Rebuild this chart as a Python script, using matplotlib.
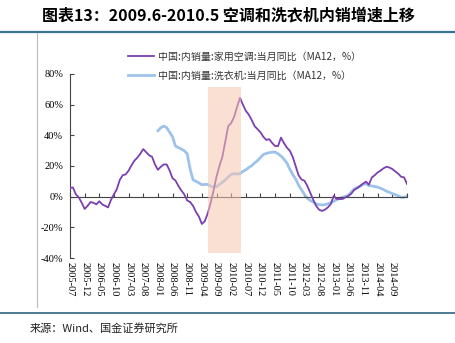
import pandas as pd
import matplotlib
matplotlib.use("Agg")
import matplotlib.pyplot as plt
from matplotlib.lines import Line2D

plt.rcParams['font.family'] = ['Noto Sans CJK SC', 'DejaVu Sans']

# monthly, 2005-07 .. 2015-02
months = pd.date_range('2005-07-01', '2015-02-01', freq='MS').strftime('%Y-%m').tolist()

# 中国:内销量:家用空调:当月同比 (MA12, %)
ac = [5.7, 6, 1.5, -0.5, -4, -8, -6, -3.5, -4, -5,
      -3, -5, -6, -7, -2, 1.5, 5, 11, 14, 14.5,
      17, 20.5, 23.5, 25.5, 28, 31, 29, 27, 26, 21,
      17.5, 19.5, 21, 21, 17, 12, 10.5, 7, 4, 1.5,
      -2.5, -3.5, -6, -10, -13, -17.8, -16, -11, -4, 4,
      13, 20, 26, 36, 46, 48, 52, 58.5, 64.5, 60,
      56, 53.5, 50, 46, 44, 42, 39, 37, 37.5, 35,
      33, 33, 38.5, 35, 32, 30, 26, 20, 14, 11.2,
      10.4, 7, 2.5, -2, -6, -8.5, -9.3, -8.5, -7, -4.8,
      0.5, -1.5, -1.5, -1.5, -0.5, 0.5, 2, 4.4, 5.5, 7,
      8.5, 9.8, 7.8, 12.5, 14, 15.8, 17, 18.5, 19.5, 19,
      18, 16.5, 15, 13, 12.6, 8.3]

# 中国:内销量:洗衣机:当月同比 (MA12, %), starts 2008-01
wm = [None] * 30 + [
      43, 45, 46, 45, 42, 39, 33, 32, 31, 30,
      28, 18, 11, 10, 9, 7.8, 8, 8, 6.8, 6.5,
      6.5, 8, 9.3, 11, 13, 14.5, 15, 14.8, 15, 16.5,
      17.5, 19, 20.2, 22, 23.5, 25.5, 27.5, 28.2, 28.7, 29,
      29, 28, 26.5, 24.5, 22, 18, 14.5, 11.5, 7.5, 4.5,
      1.5, -1, -2.5, -3.5, -4.8, -5.2, -5.4, -5.2, -4.6, -4,
      -3, -2, -1.2, -0.4, 0.2, 0.8, 3, 5, 6, 6.8,
      8, 8.5, 7.2, 7, 6.6, 6.2, 5.5, 4.6, 3.6, 2.8,
      2, 1.3, 0.5, -0.4, -0.4, 0.3]

shade_start, shade_end = '2009-06', '2010-05'
yticks = [-40, -20, 0, 20, 40, 60, 80]

df = pd.DataFrame({'ac': ac, 'wm': wm}, index=months).astype(float)
x = range(len(df))

fig = plt.figure(figsize=(4.56, 3.43), dpi=100)
ax = fig.add_axes([0.1535, 0.2478, 0.739, 0.5365])
# x axis sits on the zero line, labels hang below the plot
ax.spines['bottom'].set_position(('data', 0))

ax.plot(x, df['wm'], color='#9dc3ea', lw=2.0, zorder=2)
ax.plot(x, df['ac'], color='#7c3fae', lw=1.3, zorder=3)
s0 = months.index(shade_start)
s1 = months.index(shade_end) + 0.5
ax.axvspan(s0, s1, ymin=(-36.7 + 40) / 120, ymax=(71.5 + 40) / 120,
           color='#f7c6b0', alpha=0.55, lw=0, zorder=4)

ax.set_xlim(0, len(df) - 1)
ax.set_ylim(-40, 80)
ax.set_yticks(yticks)
ax.set_yticklabels(['%d%%' % v for v in yticks], family='Liberation Serif', fontsize=7.5)
ax.tick_params(axis='y', direction='in', length=3, pad=5, color='#444444')

xt = list(range(0, len(df), 5))
ax.set_xticks(xt)
ax.set_xticklabels([months[i] if i <= 110 else '' for i in xt], rotation=270,
                   family='Liberation Serif', fontsize=7.5, va='top', ha='center')
ax.tick_params(axis='x', direction='in', length=3, pad=47, color='#444444')
for s in ['top', 'right']:
    ax.spines[s].set_visible(False)
ax.spines['left'].set_color('#444444')
ax.spines['bottom'].set_color('#444444')

handles = [Line2D([], [], color='#7c3fae', lw=1.3),
           Line2D([], [], color='#9dc3ea', lw=2.0)]
labels = ['中国:内销量:家用空调:当月同比（MA12，%）',
          '中国:内销量:洗衣机:当月同比（MA12，%）']
fig.legend(handles, labels, loc='upper left', bbox_to_anchor=(0.26, 0.875),
           frameon=False, fontsize=7.2, handlelength=2.6, labelspacing=0.85,
           handletextpad=0.4, labelcolor='#333333')

fig.text(0.5, 0.955, '图表13：2009.6-2010.5 空调和洗衣机内销增速上移',
         ha='center', va='center', fontsize=11.5, fontweight='bold', style='italic')
fig.add_artist(Line2D([0, 1], [1 - 32 / 343] * 2, color='#3a7391', lw=1.6))
fig.add_artist(Line2D([0, 1], [1 - 313 / 343] * 2, color='#2f6580', lw=1.2))
fig.add_artist(Line2D([37 / 456] * 2, [1 - 33 / 343, 1 - 307 / 343], color='#bbbbbb', lw=0.8))
fig.text(0.065, 1 - 328 / 343, '来源：Wind、国金证券研究所', ha='left', va='center',
         fontsize=8, color='#222222')

fig.savefig('out.png', dpi=100)
